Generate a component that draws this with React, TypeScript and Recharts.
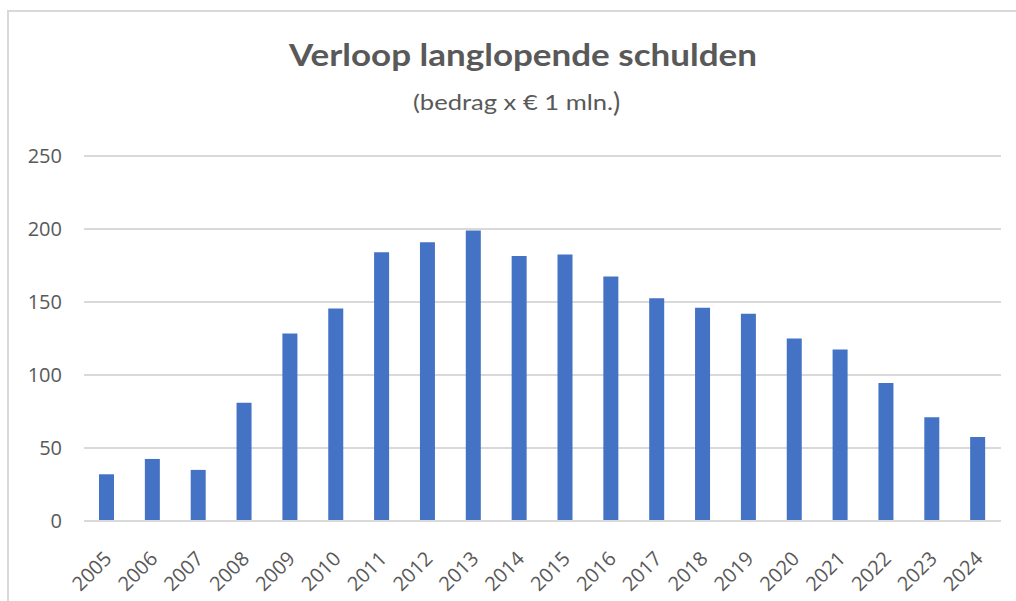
import React from 'react';
import { BarChart, Bar, XAxis, YAxis, CartesianGrid } from 'recharts';

const years = [
    '2005', '2006', '2007', '2008', '2009', '2010', '2011', '2012', '2013', '2014',
    '2015', '2016', '2017', '2018', '2019', '2020', '2021', '2022', '2023', '2024',
];
const schulden = [32, 42.5, 35, 81, 128.5, 145.5, 184, 191, 199, 181.5, 182.5, 167.5, 152.5, 146, 142, 125, 117.5, 94.5, 71, 57.5];
const yTicks = [0, 50, 100, 150, 200, 250];

const title = 'Verloop langlopende schulden';
const subtitle = '(bedrag x € 1 mln.';

const data = years.map((jaar, i) => ({ jaar, waarde: schulden[i] }));

const tickFont = "'Open Sans', 'Noto Sans', sans-serif";

function YearTick(props: any) {
    const { x, y, payload } = props;
    return (
        <g transform={`translate(${x + 6},${y + 31})`}>
            <text transform="rotate(-45)" textAnchor="end" fill="#595959" fontSize={20} fontFamily={tickFont}>
                {payload.value}
            </text>
        </g>
    );
}

export default function App() {
    return (
        <div style={{ position: 'absolute', left: 0, top: 0, width: 1016, height: 601, background: '#fff', overflow: 'hidden' }}>
            <div style={{ position: 'absolute', left: 7, top: 10, width: 1030, height: 620, border: '2px solid #d9d9d9' }} />
            <svg width={1016} height={130} style={{ position: 'absolute', left: 0, top: 0 }}>
                <text x={523} y={66} textAnchor="middle" fill="#595959" fontSize={31} fontWeight={700}
                    fontFamily="Lato, 'Open Sans', sans-serif" textLength={468} lengthAdjust="spacingAndGlyphs">
                    {title}
                </text>
                <text x={413} y={110} fill="#595959" fontSize={22} fontFamily="Lato, 'Open Sans', sans-serif">
                    <tspan textLength={200} lengthAdjust="spacingAndGlyphs">{subtitle}</tspan>
                    <tspan fontSize={27} dy={2}>)</tspan>
                </text>
            </svg>
            <BarChart
                width={1016}
                height={601}
                data={data}
                margin={{ top: 156, right: 15, left: 0, bottom: 0 }}
                style={{ position: 'absolute', left: 0, top: 0 }}
            >
                <CartesianGrid vertical={false} stroke="#d9d9d9" strokeWidth={2} />
                <XAxis
                    dataKey="jaar"
                    height={80}
                    interval={0}
                    axisLine={{ stroke: '#d9d9d9', strokeWidth: 2 }}
                    tickLine={false}
                    tick={<YearTick />}
                />
                <YAxis
                    width={84}
                    domain={[0, 250]}
                    ticks={yTicks}
                    axisLine={false}
                    tickLine={false}
                    tickMargin={16}
                    tick={{ fill: '#595959', fontSize: 20, fontFamily: tickFont }}
                />
                <Bar dataKey="waarde" fill="#4472c4" barSize={15} isAnimationActive={false} />
            </BarChart>
        </div>
    );
}
